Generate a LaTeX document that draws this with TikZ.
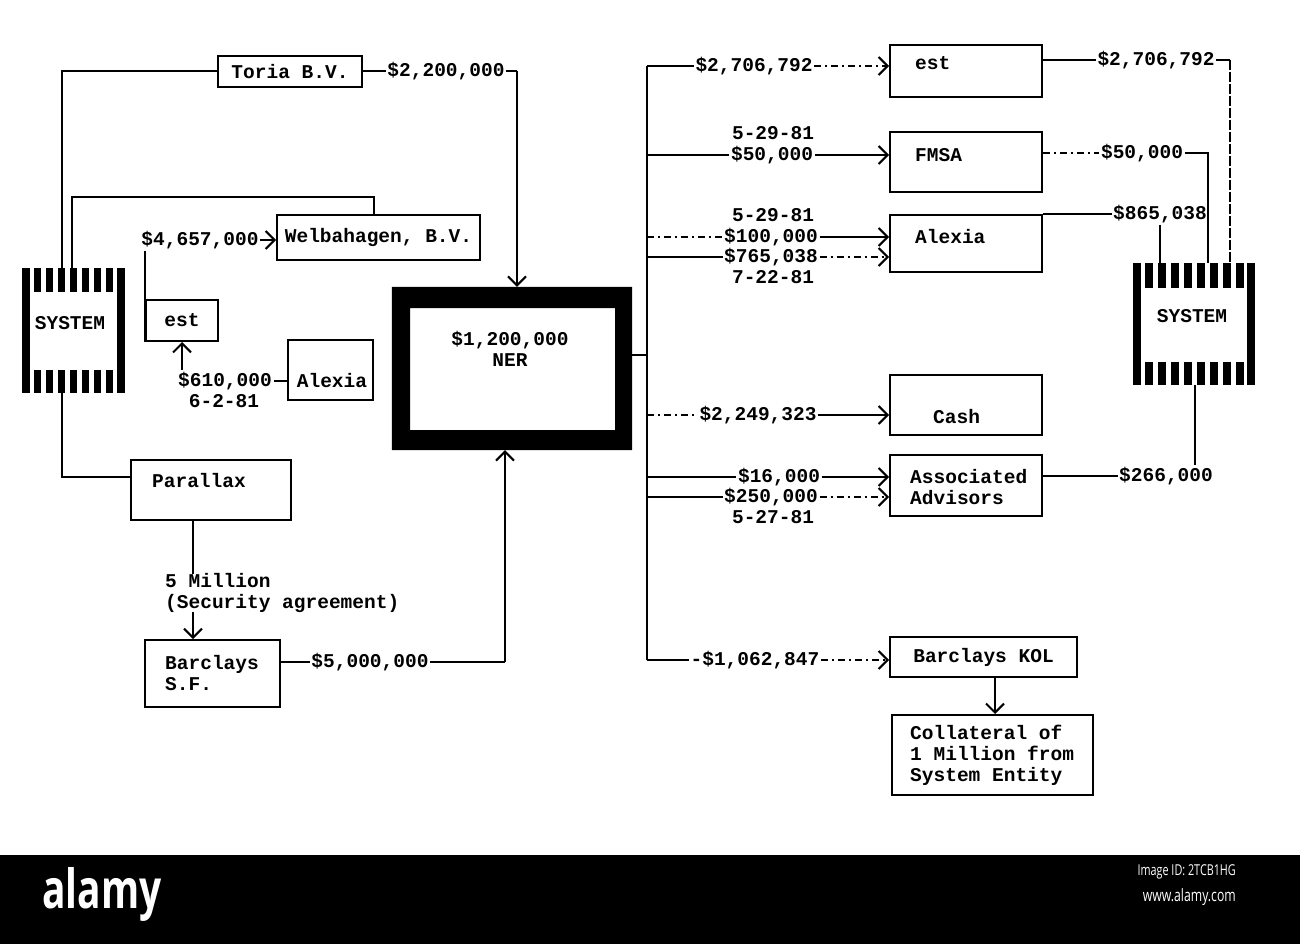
\documentclass[tikz,border=0pt]{standalone}
\usepackage{fontspec}
\newfontfamily\dmono{Liberation Mono}
\newfontfamily\alamyfont{Open Sans}[FakeStretch=0.72]
\usetikzlibrary{arrows.meta}
\begin{document}
\begin{tikzpicture}[x=1pt,y=-1pt,
  font=\dmono\bfseries\fontsize{19.5}{21}\selectfont,
  bx/.style={draw, line width=2pt, inner sep=0pt},
  txt/.style={inner sep=0pt},
  lbl/.style={inner sep=1.5pt},
  ln/.style={line width=2pt},
  arr/.style={line width=2pt, -{Straight Barb[length=9pt,width=18pt]}},
  brk/.style={dash pattern=on 7pt off 4pt on 2pt off 4pt},
  stripe/.style={fill=black}]
\useasboundingbox (0,0) rectangle (1300,944);
\fill[white] (0,0) rectangle (1300,944);

% ---------------- left side ----------------
\node[minimum width=103pt, minimum height=125pt, inner sep=0pt] (sysL) at (73.5,330.5) {};
\fill[stripe] (22,268) rectangle (30,393);
\fill[stripe] (117,268) rectangle (125,393);
\foreach \x in {34,46,58,70,82,94,106}{
  \fill[stripe] (\x,268) rectangle (\x+7,292);
  \fill[stripe] (\x,370) rectangle (\x+7,393);
}
\node[txt] (sysLt) at (70,323) {SYSTEM};

\node[bx, minimum width=144pt, minimum height=31pt] (toria) at (290,71.5) {Toria B.V.};
\node[bx, minimum width=203pt, minimum height=45pt] (welb) at (378.5,237.5) {Welbahagen, B.V.};
\node[bx, minimum width=72pt, minimum height=41pt] (estL) at (182,320.5) {est};
\node[bx, minimum width=85pt, minimum height=60pt] (alexL) at (330.5,370) {};
\node[txt] (alexLt) at (332,381) {Alexia};
\node[bx, minimum width=160pt, minimum height=60pt] (par) at (211,490) {};
\node[txt] (part) at (199,481) {Parallax};
\node[txt, anchor=west] (l5) at (165,581) {5 Million};
\node[txt, anchor=west] (l5b) at (165,603) {(Security agreement)};
\node[bx, minimum width=135pt, minimum height=67pt] (barc) at (212.5,673.5) {};
\node[txt, anchor=west, align=left] (barct) at (165,673.5) {Barclays\\S.F.};

% NER box
\node[minimum width=240pt, minimum height=163pt, inner sep=0pt] (ner) at (512,368.5) {};
\fill[even odd rule] (ner.north west) rectangle (ner.south east) (410,308) rectangle (615,430);
\node[txt, align=center] (nert) at (510,349) {\$1,200,000\\NER};

% left connectors
\draw[ln] ([xshift=-11.5pt]sysL.north) |- (toria.west);
\coordinate (cw) at (374,197);
\draw[ln] ([xshift=-1.5pt]sysL.north) |- (cw) -- (cw |- welb.north);

\node[lbl] (l1) at (446,71) {\$2,200,000};
\coordinate (c1) at (517,71);
\draw[ln] (toria.east |- l1) -- (l1.west);
\draw[ln] (l1.east) -- (c1);
\draw[arr] (c1) -- (c1 |- ner.north);

\node[lbl] (l2) at (200,240) {\$4,657,000};
\draw[ln] (estL.south west) -- (estL.south west |- l2.south);
\draw[arr] (l2.east) -- (l2.east -| welb.west);

\node[lbl] (l3) at (225,381) {\$610,000};
\node[txt] (l3d) at (224,401) {6-2-81};
\draw[ln] (alexL.west |- l3) -- (l3.east);
\draw[arr] (l3.north -| estL.south) -- (estL.south);

\draw[ln] ([xshift=-11.5pt]sysL.south) |- ([yshift=13pt]par.west);
\draw[ln] ([xshift=-18pt]par.south) -- ([xshift=-18pt]par.south |- l5.north);
\draw[arr] ([xshift=-19.5pt]barc.north |- l5b.south) -- ([xshift=-19.5pt]barc.north);

\node[lbl] (l6) at (370,662) {\$5,000,000};
\coordinate (c6) at (505,662);
\draw[ln] (barc.east |- l6) -- (l6.west);
\draw[ln] (l6.east) -- (c6);
\draw[arr] (c6) -- (c6 |- ner.south);

% ---------------- trunk ----------------
\coordinate (tT) at (647,66);
\coordinate (tB) at (647,660);
\draw[ln] ([yshift=13.5pt]ner.east) -- ([yshift=13.5pt]ner.east -| tT);
\draw[ln] (tT) -- (tB);

% ---------------- right boxes ----------------
\node[bx, minimum width=152pt, minimum height=52pt] (estR) at (966,71) {};
\node[txt, anchor=west] (estRt) at (915,63) {est};
\node[bx, minimum width=152pt, minimum height=60pt] (fmsa) at (966,162) {};
\node[txt, anchor=west] (fmsat) at (915,155) {FMSA};
\node[bx, minimum width=152pt, minimum height=57pt] (alexR) at (966,243.5) {};
\node[txt, anchor=west] (alexRt) at (915,237) {Alexia};
\node[bx, minimum width=152pt, minimum height=60pt] (cash) at (966,405) {};
\node[txt, anchor=west] (casht) at (933,417) {Cash};
\node[bx, minimum width=152pt, minimum height=61pt] (assoc) at (966,485.5) {};
\node[txt, anchor=west, align=left] (assoct) at (910,487) {Associated\\Advisors};
\node[bx, minimum width=187pt, minimum height=40pt] (kol) at (983.5,657) {Barclays KOL};
\node[bx, minimum width=201pt, minimum height=80pt] (coll) at (992.5,755) {};
\node[txt, anchor=west, align=left] (collt) at (910,755) {Collateral of\\1 Million from\\System Entity};

% right SYSTEM
\node[minimum width=122pt, minimum height=122pt, inner sep=0pt] (sysR) at (1194,324) {};
\fill[stripe] (1133,263) rectangle (1141,385);
\fill[stripe] (1247,263) rectangle (1255,385);
\foreach \x in {1145,1158,1171,1184,1197,1210,1223,1236}{
  \fill[stripe] (\x,263) rectangle (\x+8,288);
  \fill[stripe] (\x,362) rectangle (\x+8,385);
}
\node[txt] (sysRt) at (1192,316) {SYSTEM};

% ---------------- right branches ----------------
\node[lbl] (r1) at (754,66) {\$2,706,792};
\draw[ln] (tT) -- (r1.west);
\draw[arr, brk] (r1.east) -- (r1.east -| estR.west);

\node[txt] (r2d) at (773,133) {5-29-81};
\node[lbl] (r2) at (772,155) {\$50,000};
\draw[ln] (tT |- r2) -- (r2.west);
\draw[arr] (r2.east) -- (r2.east -| fmsa.west);

\node[txt] (r3d) at (773,215) {5-29-81};
\node[lbl] (r3) at (771,237) {\$100,000};
\node[lbl] (r4) at (771,257) {\$765,038};
\node[txt] (r4d) at (773,277) {7-22-81};
\draw[ln, brk] (tT |- r3) -- (r3.west);
\draw[arr] (r3.east) -- (r3.east -| alexR.west);
\draw[ln] (tT |- r4) -- (r4.west);
\draw[arr, brk] (r4.east) -- (r4.east -| alexR.west);

\node[lbl] (r5) at (758,415) {\$2,249,323};
\draw[ln, brk] (tT |- r5) -- (r5.west);
\draw[arr] (r5.east) -- (r5.east -| cash.west);

\node[lbl] (r6) at (779,477) {\$16,000};
\node[lbl] (r6b) at (771,497) {\$250,000};
\node[txt] (r6d) at (773,517) {5-27-81};
\draw[ln] (tT |- r6) -- (r6.west);
\draw[arr] (r6.east) -- (r6.east -| assoc.west);
\draw[ln] (tT |- r6b) -- (r6b.west);
\draw[arr, brk] (r6b.east) -- (r6b.east -| assoc.west);

\node[lbl] (r7) at (755,660) {-\$1,062,847};
\draw[ln] (tB) -- (r7.west);
\draw[arr, brk] (r7.east) -- (r7.east -| kol.west);

\draw[arr] ([xshift=11.5pt]kol.south) -- ([xshift=11.5pt]kol.south |- coll.north);

% ---------------- right outputs ----------------
\node[lbl] (o1) at (1156,60) {\$2,706,792};
\coordinate (co1) at (1230,60);
\draw[ln] (estR.east |- o1) -- (o1.west);
\draw[ln] (o1.east) -- (co1);
\draw[ln, dash pattern=on 10pt off 2pt] (co1) -- (co1 |- sysR.north);

\node[lbl] (o2) at (1142,153) {\$50,000};
\coordinate (co2) at (1208,153);
\draw[ln, brk] (fmsa.east |- o2) -- (o2.west);
\draw[ln] (o2.east) -- (co2) -- (co2 |- sysR.north);

\node[lbl] (o3) at (1160,214) {\$865,038};
\draw[ln] (alexR.north east) -- (alexR.north east -| o3.west);
\draw[ln] (o3.south) -- (o3.south |- sysR.north);

\node[lbl] (o4) at (1166,476) {\$266,000};
\draw[ln] (assoc.east |- o4) -- (o4.west);
\draw[ln] ([xshift=1pt]sysR.south) -- ([xshift=1pt]sysR.south |- o4.north);

% ---------------- bottom bar ----------------
\fill[black] (0,855) rectangle (1300,944);
\node[white, inner sep=0pt] (alamy) at (102,894) {\alamyfont\bfseries\fontsize{54}{54}\selectfont alamy};
\node[white, inner sep=0pt, anchor=east] (imgid) at (1236,872) {\alamyfont\mdseries\fontsize{15}{15}\selectfont Image ID: 2TCB1HG};
\node[white, inner sep=0pt, anchor=east] (www) at (1236,897) {\alamyfont\mdseries\fontsize{17}{17}\selectfont www.alamy.com};
\end{tikzpicture}
\end{document}
